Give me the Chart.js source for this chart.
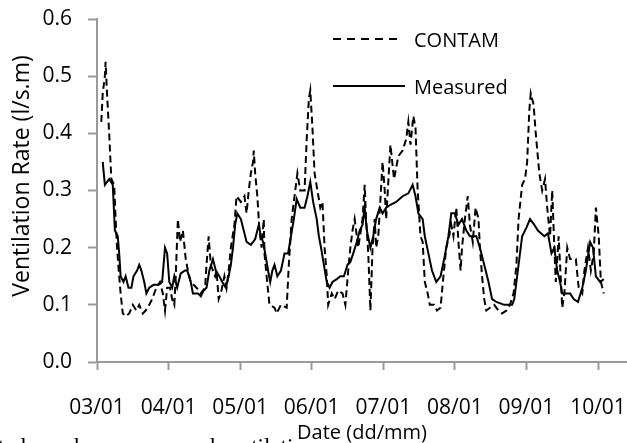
<!DOCTYPE html>
<html><head><meta charset="utf-8">
<script src="https://cdn.jsdelivr.net/npm/chart.js@4/dist/chart.umd.min.js"></script>
<style>html,body{margin:0;padding:0;background:#fff}canvas{display:block}</style>
</head><body>
<canvas id="c" width="627" height="443"></canvas>
<script>
// ---- data ----
const tickDays = [3, 4, 5, 6, 7, 8, 9, 10];
const tickLabels = ['03/01', '04/01', '05/01', '06/01', '07/01', '08/01', '09/01', '10/01'];
const yTicks = [0, 0.1, 0.2, 0.3, 0.4, 0.5, 0.6];
const seriesNames = ['CONTAM', 'Measured'];
const xTitle = 'Date (dd/mm)';
const yTitle = 'Ventilation Rate (l/s.m)';
const captionWords = ['ted', 'and', 'measured', 'ventilation'];

const contamDays = [3.06,3.08,3.11,3.12,3.14,3.17,3.20,3.24,3.26,3.28,3.31,3.33,3.36,3.40,3.45,3.50,3.55,3.59,3.64,3.68,
 3.73,3.77,3.83,3.88,3.92,3.95,3.98,4.02,4.05,4.08,4.10,4.13,4.16,4.20,4.24,4.27,4.31,4.39,4.45,4.51,
 4.53,4.56,4.59,4.65,4.67,4.70,4.73,4.78,4.81,4.84,4.87,4.92,4.95,5.01,5.06,5.09,5.12,5.15,5.18,5.19,
 5.21,5.24,5.27,5.30,5.33,5.34,5.37,5.41,5.48,5.51,5.57,5.65,5.68,5.72,5.76,5.80,5.84,5.90,5.93,5.96,
 5.98,6.01,6.04,6.08,6.12,6.15,6.18,6.21,6.23,6.28,6.32,6.37,6.43,6.47,6.51,6.54,6.57,6.60,6.63,6.65,
 6.71,6.74,6.76,6.79,6.82,6.85,6.88,6.90,6.93,6.99,7.02,7.04,7.10,7.15,7.21,7.27,7.32,7.35,7.38,7.42,
 7.45,7.48,7.52,7.55,7.58,7.62,7.65,7.71,7.75,7.80,7.84,7.88,7.92,7.95,7.98,8.02,8.05,8.08,8.10,8.14,
 8.18,8.21,8.25,8.29,8.33,8.35,8.38,8.41,8.44,8.49,8.55,8.61,8.66,8.72,8.77,8.82,8.86,8.89,8.94,8.98,
 9.01,9.04,9.06,9.10,9.13,9.18,9.22,9.26,9.29,9.33,9.36,9.39,9.41,9.45,9.50,9.53,9.57,9.61,9.69,9.73,
 9.78,9.81,9.86,9.90,9.94,9.97,10.01,10.04,10.08];
const contamValues = [0.42,0.47,0.50,0.525,0.47,0.40,0.32,0.31,0.25,0.20,0.15,0.12,0.085,0.08,0.085,0.10,0.09,0.10,0.085,0.09,
 0.10,0.11,0.13,0.14,0.12,0.09,0.13,0.13,0.11,0.10,0.15,0.25,0.21,0.23,0.18,0.16,0.14,0.13,0.12,0.13,
 0.17,0.22,0.17,0.15,0.16,0.11,0.12,0.15,0.13,0.16,0.20,0.24,0.29,0.28,0.29,0.26,0.30,0.33,0.35,0.37,
 0.33,0.29,0.23,0.20,0.25,0.19,0.15,0.10,0.095,0.085,0.10,0.095,0.17,0.25,0.29,0.33,0.30,0.30,0.39,0.46,
 0.475,0.41,0.33,0.30,0.27,0.28,0.20,0.15,0.10,0.12,0.11,0.125,0.12,0.10,0.16,0.20,0.23,0.25,0.22,0.20,
 0.25,0.31,0.25,0.19,0.09,0.20,0.25,0.20,0.22,0.35,0.30,0.25,0.38,0.32,0.36,0.37,0.39,0.42,0.38,0.43,
 0.41,0.30,0.22,0.21,0.14,0.12,0.10,0.10,0.09,0.095,0.15,0.20,0.22,0.24,0.22,0.27,0.21,0.16,0.20,0.25,
 0.29,0.24,0.21,0.27,0.25,0.20,0.15,0.11,0.09,0.095,0.10,0.09,0.085,0.09,0.10,0.12,0.17,0.25,0.31,0.32,
 0.35,0.44,0.47,0.45,0.40,0.33,0.30,0.32,0.27,0.22,0.30,0.20,0.14,0.22,0.095,0.12,0.20,0.18,0.18,0.13,
 0.12,0.16,0.20,0.16,0.19,0.27,0.22,0.14,0.12];

const measuredDays = [3.08,3.11,3.17,3.22,3.25,3.29,3.31,3.33,3.37,3.40,3.44,3.48,3.51,3.56,3.59,3.62,3.66,3.69,3.73,3.79,
 3.86,3.91,3.95,3.98,4.01,4.05,4.08,4.12,4.17,4.23,4.26,4.31,4.34,4.41,4.45,4.49,4.53,4.57,4.62,4.66,
 4.71,4.75,4.80,4.84,4.87,4.90,4.93,4.96,5.01,5.05,5.09,5.15,5.21,5.26,5.29,5.32,5.35,5.39,5.42,5.45,
 5.48,5.52,5.57,5.62,5.67,5.71,5.75,5.79,5.84,5.90,5.94,5.98,6.02,6.07,6.10,6.13,6.17,6.21,6.25,6.29,
 6.35,6.40,6.45,6.50,6.54,6.58,6.63,6.67,6.71,6.74,6.77,6.82,6.86,6.90,6.95,6.99,7.04,7.10,7.18,7.27,
 7.35,7.41,7.45,7.49,7.55,7.58,7.63,7.68,7.74,7.80,7.85,7.91,7.95,8.00,8.05,8.10,8.16,8.21,8.30,8.35,
 8.41,8.47,8.52,8.58,8.69,8.80,8.83,8.87,8.90,8.94,9.00,9.05,9.11,9.16,9.25,9.30,9.35,9.39,9.43,9.47,
 9.50,9.55,9.61,9.66,9.72,9.78,9.83,9.89,9.93,9.97,10.03,10.08];
const measuredValues = [0.35,0.31,0.32,0.31,0.23,0.22,0.19,0.15,0.14,0.15,0.13,0.13,0.15,0.16,0.17,0.16,0.14,0.12,0.13,0.135,
 0.135,0.14,0.20,0.19,0.14,0.13,0.15,0.13,0.155,0.16,0.16,0.14,0.12,0.12,0.115,0.125,0.13,0.16,0.18,0.16,
 0.15,0.14,0.13,0.15,0.17,0.20,0.24,0.26,0.25,0.23,0.21,0.205,0.215,0.24,0.22,0.21,0.19,0.16,0.14,0.16,
 0.17,0.15,0.16,0.19,0.19,0.22,0.25,0.285,0.27,0.27,0.29,0.315,0.28,0.25,0.22,0.20,0.17,0.14,0.13,0.14,
 0.145,0.15,0.15,0.17,0.175,0.19,0.21,0.23,0.24,0.27,0.23,0.20,0.22,0.25,0.27,0.26,0.27,0.275,0.28,0.29,
 0.295,0.31,0.29,0.26,0.25,0.22,0.19,0.16,0.14,0.15,0.18,0.22,0.26,0.26,0.24,0.25,0.23,0.22,0.22,0.20,
 0.17,0.14,0.11,0.105,0.10,0.10,0.11,0.15,0.18,0.22,0.235,0.25,0.24,0.23,0.22,0.225,0.19,0.20,0.16,0.14,
 0.12,0.12,0.12,0.11,0.105,0.13,0.16,0.21,0.20,0.15,0.14,0.145];

// ---- chart ----
const FONT = "'Open Sans', 'DejaVu Sans', sans-serif";
const AXIS = '#9a9a9a';
const toXY = (xs, ys) => xs.map((x, i) => ({x: x, y: ys[i]}));

const overlay = {
  id: 'overlay',
  afterDraw(chart) {
    const ctx = chart.ctx;
    ctx.save();
    // y axis title
    ctx.fillStyle = '#000';
    ctx.font = '23px ' + FONT;
    ctx.textAlign = 'center';
    ctx.textBaseline = 'middle';
    ctx.translate(22, 176);
    ctx.rotate(-Math.PI / 2);
    ctx.fillText(yTitle, 0, 0);
    ctx.restore();

    // legend
    ctx.save();
    ctx.strokeStyle = '#000';
    ctx.lineWidth = 2;
    ctx.setLineDash([8, 6]);
    ctx.beginPath(); ctx.moveTo(333, 39); ctx.lineTo(397, 39); ctx.stroke();
    ctx.setLineDash([]);
    ctx.beginPath(); ctx.moveTo(333, 86); ctx.lineTo(405, 86); ctx.stroke();
    ctx.fillStyle = '#000';
    ctx.font = '20px ' + FONT;
    ctx.textAlign = 'left';
    ctx.textBaseline = 'middle';
    ctx.fillText(seriesNames[0], 414, 41);
    ctx.fillText(seriesNames[1], 414, 88);
    ctx.restore();

    // cropped caption line at bottom
    ctx.save();
    ctx.beginPath(); ctx.rect(0, 0, 296, 443); ctx.clip();
    ctx.fillStyle = '#000';
    ctx.font = "23px 'Liberation Serif', serif";
    ctx.textBaseline = 'alphabetic';
    const xs = [-2, 46, 127, 218];
    captionWords.forEach((w, i) => ctx.fillText(w, xs[i], 454));
    ctx.restore();
  }
};

new Chart(document.getElementById('c'), {
  type: 'line',
  data: {
    datasets: [
      {label: seriesNames[1], data: toXY(measuredDays, measuredValues), borderColor: '#000', borderWidth: 2,
       pointRadius: 0, tension: 0, fill: false},
      {label: seriesNames[0], data: toXY(contamDays, contamValues), borderColor: '#000', borderWidth: 2,
       borderDash: [7, 4], pointRadius: 0, tension: 0, fill: false}
    ]
  },
  options: {
    responsive: false,
    animation: false,
    events: [],
    layout: {padding: {top: 19, right: 0, left: 0, bottom: 0}},
    plugins: {legend: {display: false}, tooltip: {enabled: false}},
    scales: {
      x: {
        type: 'linear',
        min: 3,
        max: 10.405,
        afterBuildTicks: s => { s.ticks = tickDays.map(v => ({value: v})); },
        afterFit: s => { s.height = 81; s.paddingLeft = 0; s.paddingRight = 0; },
        grid: {drawOnChartArea: false, drawTicks: true, tickLength: 8, tickColor: AXIS, tickWidth: 2},
        border: {color: AXIS, width: 2},
        ticks: {
          maxRotation: 0, autoSkip: false, padding: 25, color: '#000',
          font: {family: FONT, size: 21},
          callback: v => tickLabels[tickDays.indexOf(v)]
        },
        title: {display: true, text: xTitle, color: '#000', font: {family: FONT, size: 20, lineHeight: 1}, padding: {top: 0, bottom: 0}}
      },
      y: {
        type: 'linear',
        min: 0,
        max: 0.6,
        afterBuildTicks: s => { s.ticks = yTicks.map(v => ({value: v})); },
        afterFit: s => { s.width = 97; s.paddingTop = 0; s.paddingBottom = 0; },
        grid: {drawOnChartArea: false, drawTicks: true, tickLength: 9, tickColor: AXIS, tickWidth: 2},
        border: {color: AXIS, width: 2},
        ticks: {padding: 16, color: '#000', font: {family: FONT, size: 21}, callback: v => v.toFixed(1)}
      }
    }
  },
  plugins: [overlay]
});
</script>
</body></html>
